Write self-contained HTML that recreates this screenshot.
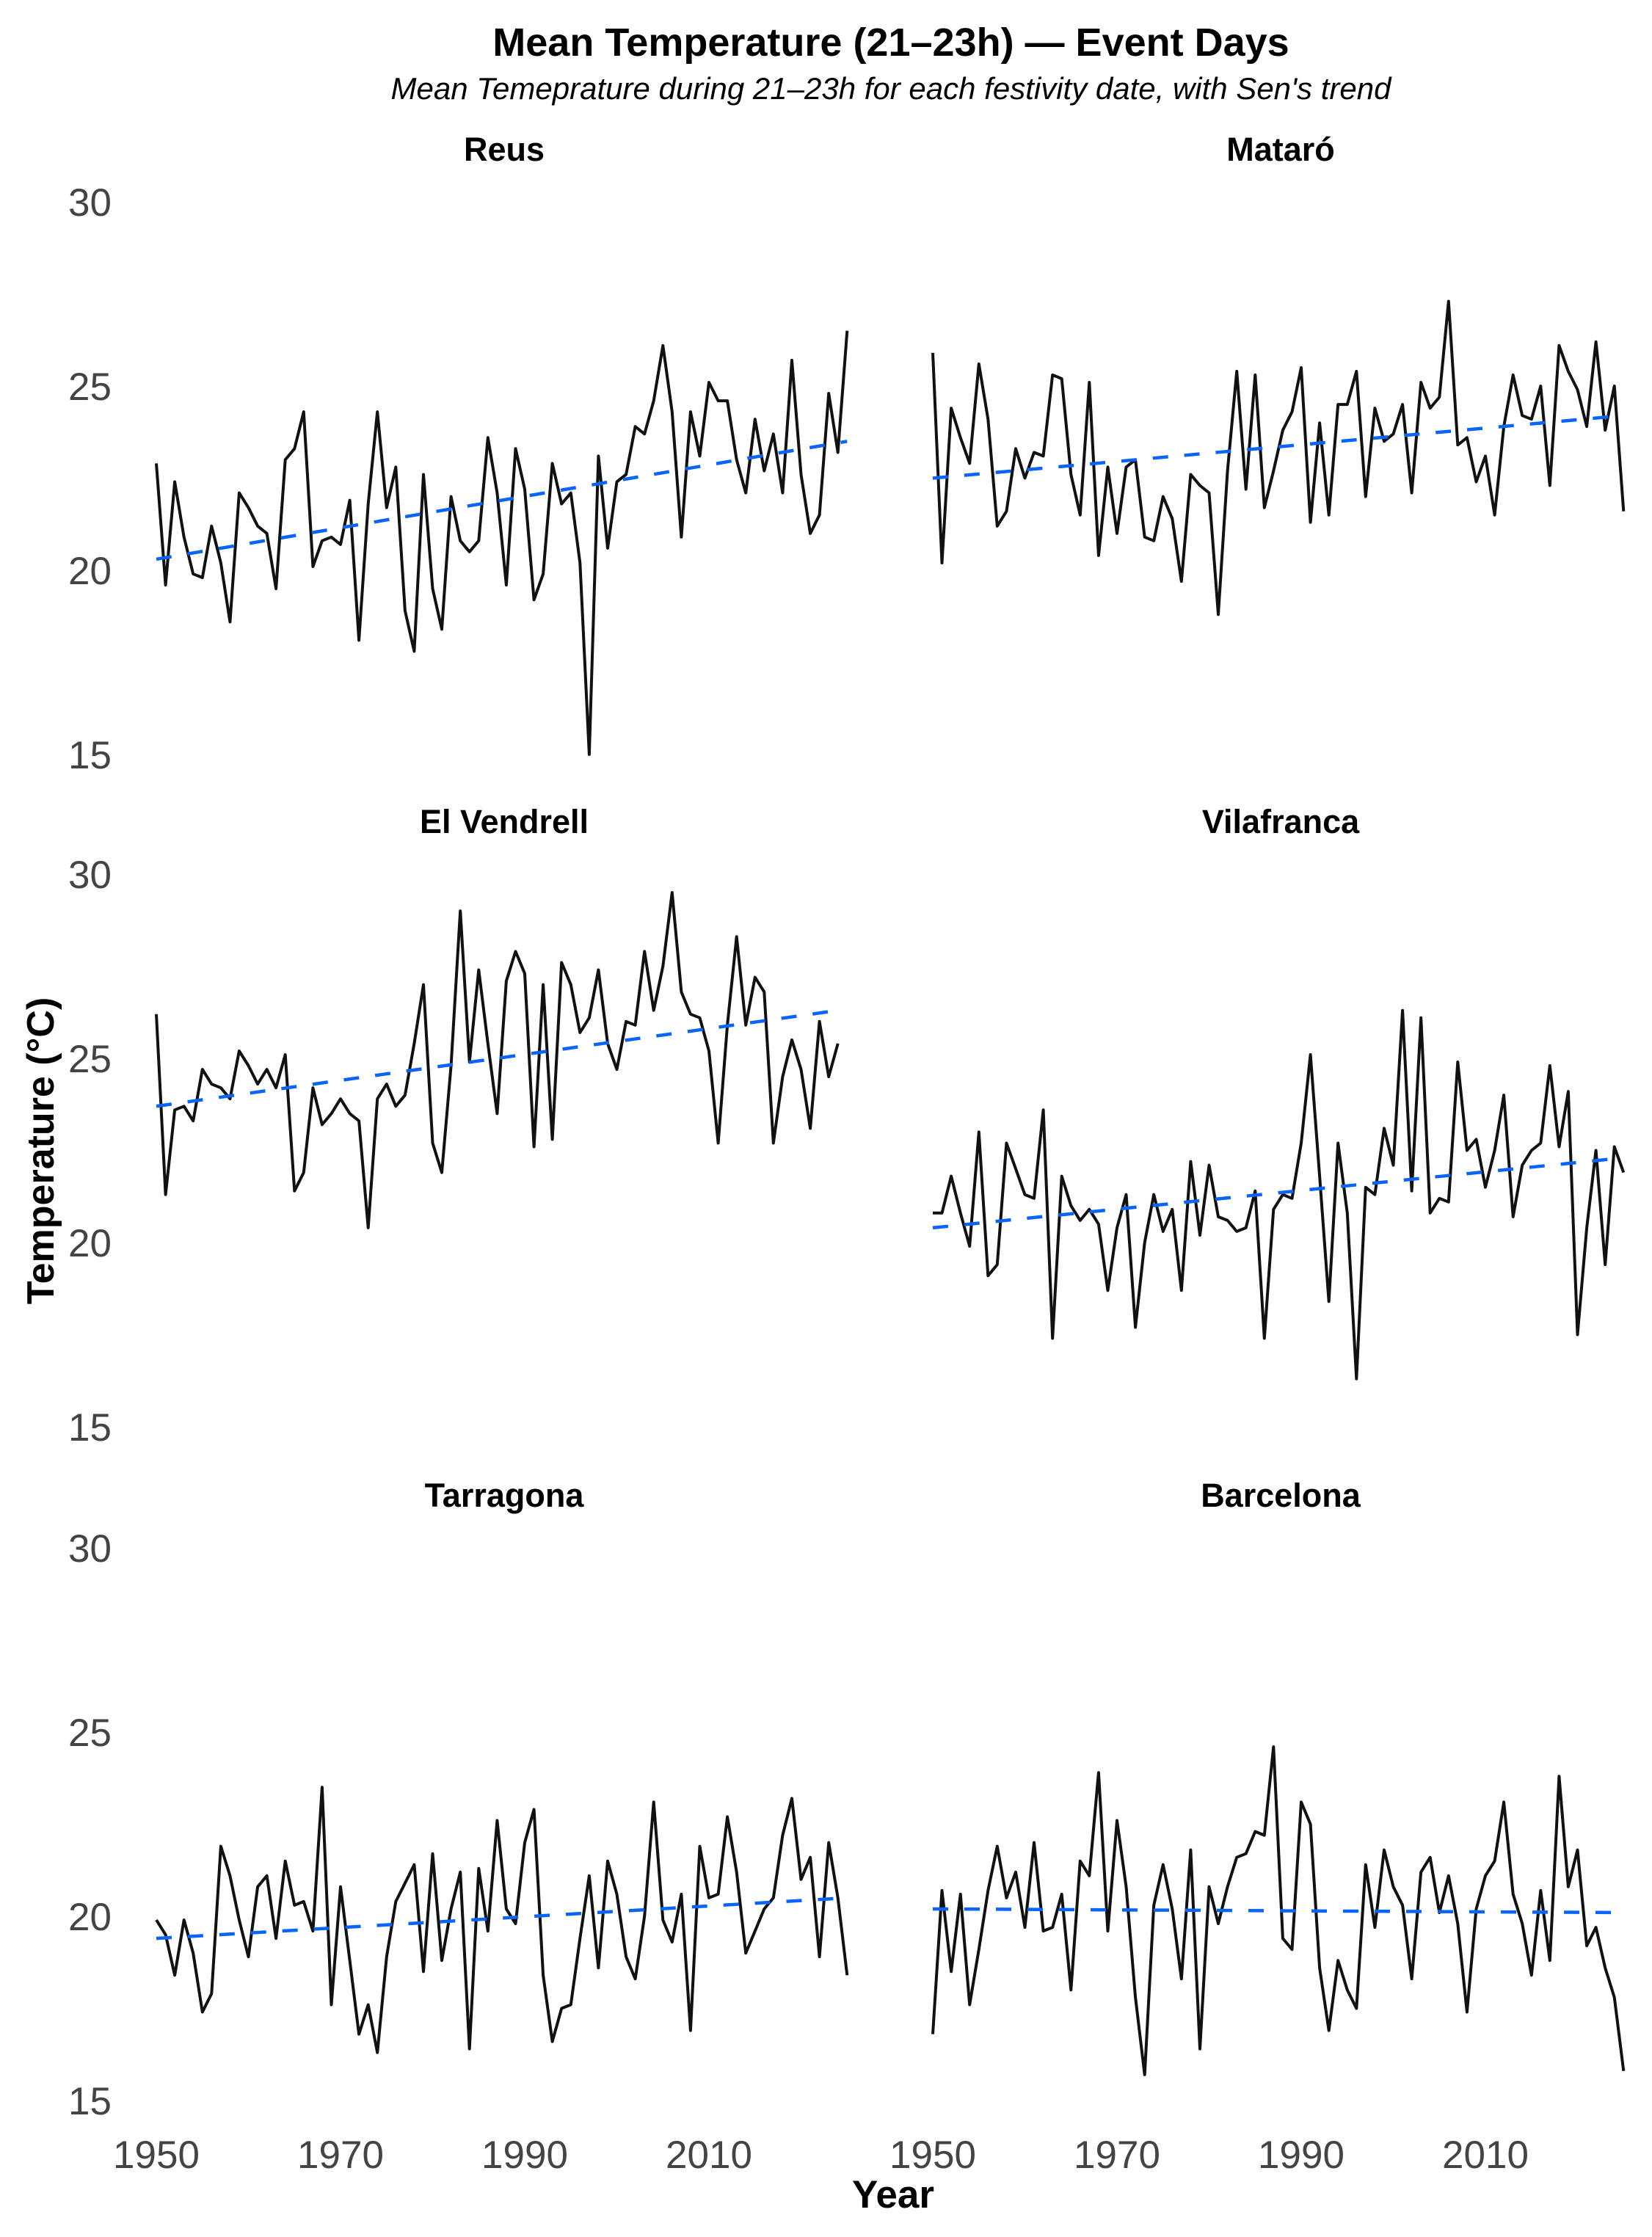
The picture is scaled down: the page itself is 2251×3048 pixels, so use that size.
<!DOCTYPE html>
<html><head><meta charset="utf-8">
<style>
html,body{margin:0;padding:0;background:#fff;}
svg{display:block;}
text{font-family:"Liberation Sans",Arial,sans-serif;}
</style></head>
<body>
<svg id="chart" width="2251" height="3048" viewBox="0 0 2251 3048" xmlns="http://www.w3.org/2000/svg">
<text x="1214" y="76" text-anchor="middle" font-size="54" font-weight="bold" fill="#000">Mean Temperature (21–23h) — Event Days</text>
<text x="1214" y="135" text-anchor="middle" font-size="42" font-style="italic" fill="#000">Mean Temeprature during 21–23h for each festivity date, with Sen's trend</text>
<text transform="translate(73,1568) rotate(-90)" text-anchor="middle" font-size="52" font-weight="bold" fill="#000">Temperature (°C)</text>
<text x="1217" y="3008" text-anchor="middle" font-size="53" font-weight="bold" fill="#000">Year</text>
<g id="panels"></g>
</svg>
<script>
const yearStart = 1950;
const yTicks = [15, 20, 25, 30];
const xTicks = [1950, 1970, 1990, 2010];
const panelNames = ["Reus", "Mataró", "El Vendrell", "Vilafranca", "Tarragona", "Barcelona"];
const reus = [22.9,19.6,22.4,20.9,19.9,19.8,21.2,20.2,18.6,22.1,21.7,21.2,21.0,19.5,23.0,23.3,24.3,20.1,20.8,20.9,20.7,21.9,18.1,21.8,24.3,21.7,22.8,18.9,17.8,22.6,19.5,18.4,22.0,20.8,20.5,20.8,23.6,22.1,19.6,23.3,22.2,19.2,19.9,22.9,21.8,22.1,20.2,15.0,23.1,20.6,22.4,22.6,23.9,23.7,24.6,26.1,24.3,20.9,24.3,23.1,25.1,24.6,24.6,23.0,22.1,24.1,22.7,23.7,22.1,25.7,22.6,21.0,21.5,24.8,23.2,26.5];
const mataro = [25.9,20.2,24.4,23.6,22.9,25.6,24.1,21.2,21.6,23.3,22.5,23.2,23.1,25.3,25.2,22.6,21.5,25.1,20.4,22.8,21.0,22.8,23.0,20.9,20.8,22.0,21.4,19.7,22.6,22.3,22.1,18.8,22.7,25.4,22.2,25.3,21.7,22.7,23.8,24.3,25.5,21.3,24.0,21.5,24.5,24.5,25.4,22.0,24.4,23.5,23.7,24.5,22.1,25.1,24.4,24.7,27.3,23.4,23.6,22.4,23.1,21.5,23.9,25.3,24.2,24.1,25.0,22.3,26.1,25.4,24.9,23.9,26.2,23.8,25.0,21.6];
const vendrell = [26.2,21.3,23.6,23.7,23.3,24.7,24.3,24.2,23.9,25.2,24.8,24.3,24.7,24.2,25.1,21.4,21.9,24.2,23.2,23.5,23.9,23.5,23.3,20.4,23.9,24.3,23.7,24.0,25.4,27.0,22.7,21.9,24.8,29.0,24.9,27.4,25.4,23.5,27.1,27.9,27.3,22.6,27.0,22.8,27.6,27.0,25.7,26.1,27.4,25.4,24.7,26.0,25.9,27.9,26.3,27.5,29.5,26.8,26.2,26.1,25.2,22.7,25.9,28.3,25.9,27.2,26.8,22.7,24.5,25.5,24.7,23.1,26.0,24.5,25.4];
const vilafranca = [20.8,20.8,21.8,20.8,19.9,23.0,19.1,19.4,22.7,22.0,21.3,21.2,23.6,17.4,21.8,21.0,20.6,20.9,20.5,18.7,20.4,21.3,17.7,20.0,21.3,20.3,20.9,18.7,22.2,20.2,22.1,20.7,20.6,20.3,20.4,21.4,17.4,20.9,21.3,21.2,22.7,25.1,21.8,18.4,22.7,20.8,16.3,21.5,21.3,23.1,22.1,26.3,21.4,26.1,20.8,21.2,21.1,24.9,22.5,22.8,21.5,22.5,24.0,20.7,22.1,22.5,22.7,24.8,22.6,24.1,17.5,20.4,22.5,19.4,22.6,21.9];
const tarragona = [19.9,19.5,18.4,19.9,19.0,17.4,17.9,21.9,21.1,19.9,18.9,20.8,21.1,19.4,21.5,20.3,20.4,19.6,23.5,17.6,20.8,18.8,16.8,17.6,16.3,18.9,20.4,20.9,21.4,18.5,21.7,18.8,20.2,21.2,16.4,21.3,19.6,22.6,20.2,19.8,22.0,22.9,18.4,16.6,17.5,17.6,19.4,21.1,18.6,21.5,20.6,18.9,18.3,20.0,23.1,19.9,19.3,20.6,16.9,21.9,20.5,20.6,22.7,21.2,19.0,19.6,20.2,20.5,22.2,23.2,21.0,21.6,18.9,22.0,20.5,18.4];
const barcelona = [16.8,20.7,18.5,20.6,17.6,19.1,20.7,21.9,20.5,21.2,19.7,22.0,19.6,19.7,20.6,18.0,21.5,21.1,23.9,19.6,22.6,20.8,17.8,15.7,20.3,21.4,20.2,18.3,21.8,16.4,20.8,19.8,20.8,21.6,21.7,22.3,22.2,24.6,19.4,19.1,23.1,22.5,18.6,16.9,18.8,18.0,17.5,21.4,19.7,21.8,20.8,20.3,18.3,21.2,21.6,20.1,21.1,19.8,17.4,20.2,21.1,21.5,23.1,20.6,19.8,18.4,20.7,18.8,23.8,20.8,21.8,19.2,19.7,18.6,17.8,15.8];
const trendStart = [20.3, 22.5, 23.7, 20.4, 19.4, 20.2];
const trendEnd = [23.5, 24.2, 26.3, 22.3, 20.5, 20.1];

const seriesList = [reus, mataro, vendrell, vilafranca, tarragona, barcelona];
const NS = "http://www.w3.org/2000/svg";
const colX0 = [213, 1271];
const rowY30 = [275, 1191, 2109];
const pxPerYear = 12.55, pxPerDeg = 50.2;
function xScale(col, year){ return colX0[col] + (year - yearStart) * pxPerYear; }
function yScale(row, v){ return rowY30[row] + (30 - v) * pxPerDeg; }
const root = document.getElementById('panels');
function mk(tag, attrs){ const e = document.createElementNS(NS, tag); for (const k in attrs) e.setAttribute(k, attrs[k]); return e; }

for (let p = 0; p < 6; p++) {
  const col = p % 2, row = Math.floor(p / 2);
  const g = mk('g', {});
  
  
  root.appendChild(g);
  const t = mk('text', {x: xScale(col, 1950) + 474, y: rowY30[row] - 56, 'text-anchor': 'middle', 'font-size': 45, 'font-weight': 'bold', fill: '#000'});
  t.textContent = panelNames[p];
  
  
  g.appendChild(t);
  if (col === 0) {
    yTicks.forEach(v => {
      const yt = mk('text', {x: 152, y: yScale(row, v) + 19, 'text-anchor': 'end', 'font-size': 53, fill: '#444'});
      yt.textContent = v;
      
      
      g.appendChild(yt);
    });
  }
  if (row === 2) {
    xTicks.forEach(yr => {
      const xt = mk('text', {x: xScale(col, yr), y: 2954, 'text-anchor': 'middle', 'font-size': 53, fill: '#444'});
      xt.textContent = yr;
      
      
      g.appendChild(xt);
    });
  }
  const s = seriesList[p];
  const pts = s.map((v, i) => xScale(col, yearStart + i).toFixed(1) + ',' + yScale(row, v).toFixed(1)).join(' ');
  const line = mk('polyline', {points: pts, fill: 'none', stroke: '#111', 'stroke-width': 4, 'stroke-linejoin': 'round'});
  
  
  g.appendChild(line);
  const lastYear = yearStart + s.length - 1;
  const tr = mk('line', {x1: xScale(col, yearStart), y1: yScale(row, trendStart[p]), x2: xScale(col, lastYear), y2: yScale(row, trendEnd[p]), stroke: '#0a64f5', 'stroke-width': 4.5, 'stroke-dasharray': '21 22'});
  
  
  g.appendChild(tr);
}
</script>
</body></html>
